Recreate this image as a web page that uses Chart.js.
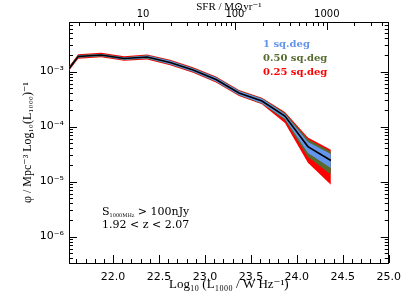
<!DOCTYPE html>
<html><head><meta charset="utf-8">
<script src="https://cdn.jsdelivr.net/npm/chart.js@4/dist/chart.umd.min.js"></script>
<style>html,body{margin:0;padding:0;background:#fff;}</style>
</head><body>
<canvas id="c" width="409" height="307"></canvas>
<script>
// ---- data (log10 luminosity, log10 phi) ----
const logL     = [21.37, 21.62, 21.87, 22.12, 22.37, 22.62, 22.87, 23.12, 23.37, 23.62, 23.87, 24.12, 24.37];
const logPhi   = [-3.280, -2.727, -2.700, -2.764, -2.736, -2.836, -2.973, -3.145, -3.390, -3.536, -3.810, -4.364, -4.618];
const blueHi   = [-3.260, -2.707, -2.680, -2.744, -2.711, -2.806, -2.943, -3.110, -3.355, -3.496, -3.770, -4.280, -4.500];
const blueLo   = [-3.300, -2.747, -2.720, -2.784, -2.761, -2.866, -3.003, -3.180, -3.425, -3.576, -3.860, -4.480, -4.755];
const greenHi  = [-3.255, -2.702, -2.675, -2.739, -2.705, -2.800, -2.937, -3.103, -3.348, -3.488, -3.755, -4.230, -4.460];
const greenLo  = [-3.305, -2.752, -2.725, -2.789, -2.767, -2.872, -3.009, -3.187, -3.432, -3.584, -3.880, -4.550, -4.870];
const redHi    = [-3.240, -2.687, -2.660, -2.724, -2.691, -2.786, -2.923, -3.090, -3.335, -3.476, -3.735, -4.200, -4.420];
const redLo    = [-3.320, -2.767, -2.740, -2.804, -2.781, -2.886, -3.023, -3.200, -3.445, -3.596, -3.935, -4.660, -5.060];

const areaNames  = ['1 sq.deg', '0.50 sq.deg', '0.25 sq.deg'];
const areaColors = ['#6495ed', '#556b2f', '#ff0000'];

const xMin = 21.52, xMax = 25.0;
const yMinExp = -6.48, yMaxExp = -2.10;
const sfrOffset = 21.326;            // log SFR = log L - offset
const xMajorTicks = [22.0, 22.5, 23.0, 23.5, 24.0, 24.5, 25.0];
const sfrMajorTicks = [1, 2, 3];
const sfrLabels = ['10', '100', '1000'];
const yDecades = [-7, -6, -5, -4, -3, -2];
const supers = {'-':'⁻','0':'⁰','1':'¹','2':'²','3':'³','4':'⁴','5':'⁵','6':'⁶','7':'⁷','8':'⁸','9':'⁹'};

const pts = arr => logL.map((x, i) => ({x: x, y: Math.pow(10, arr[i])}));

function band(hi, lo, color, order) {
  return [
    {data: pts(hi), borderWidth: 0, borderColor: 'rgba(0,0,0,0)', pointRadius: 0, fill: false, order: order},
    {data: pts(lo), borderWidth: 0, borderColor: 'rgba(0,0,0,0)', pointRadius: 0, fill: '-1', backgroundColor: color, order: order}
  ];
}

function xTicks(scale) {
  const t = [];
  for (let k = Math.ceil(xMin * 10); k <= Math.round(xMax * 10); k++) {
    const v = k / 10;
    t.push({value: v, major: xMajorTicks.some(m => Math.abs(m - v) < 1e-6)});
  }
  scale.ticks = t;
}
function sfrTicks(scale) {
  const t = [];
  for (let d = 0; d <= 3; d++) {
    for (let m = 1; m <= 9; m++) {
      const v = d + Math.log10(m);
      if (v >= scale.min - 1e-9 && v <= scale.max + 1e-9) t.push({value: v, major: m === 1});
    }
  }
  scale.ticks = t;
}
function yTicks(scale) {
  const t = [];
  yDecades.forEach(d => {
    for (let m = 1; m <= 9; m++) {
      const v = m * Math.pow(10, d);
      if (v >= scale.min && v <= scale.max) t.push({value: v, major: m === 1});
    }
  });
  scale.ticks = t;
}
function supText(n) { return String(n).split('').map(c => supers[c]).join(''); }

const inwardTicks = {
  id: 'inwardTicks',
  afterDraw(chart) {
    const ctx = chart.ctx, a = chart.chartArea;
    ctx.save();
    ctx.strokeStyle = '#000';
    ctx.lineWidth = 1;
    ctx.beginPath();
    const sc = chart.scales;
    sc.x.ticks.forEach(t => {
      const p = Math.round(sc.x.getPixelForValue(t.value)) + 0.5, L = t.major ? 8 : 4;
      ctx.moveTo(p, a.bottom); ctx.lineTo(p, a.bottom - L);
    });
    sc.x2.ticks.forEach(t => {
      const p = Math.round(sc.x2.getPixelForValue(t.value)) + 0.5, L = t.major ? 8 : 4;
      ctx.moveTo(p, a.top); ctx.lineTo(p, a.top + L);
    });
    sc.y.ticks.forEach(t => {
      const p = Math.round(sc.y.getPixelForValue(t.value)) + 0.5, L = t.major ? 8 : 4;
      ctx.moveTo(a.left, p); ctx.lineTo(a.left + L, p);
      ctx.moveTo(a.right, p); ctx.lineTo(a.right - L, p);
    });
    ctx.stroke();

    // legend of survey areas
    ctx.font = 'bold 10px "DejaVu Serif", serif';
    ctx.textBaseline = 'middle';
    ctx.textAlign = 'left';
    areaNames.forEach((n, i) => {
      ctx.fillStyle = areaColors[i];
      ctx.fillText(n, a.left + 194, a.top + 22 + i * 14.3);
    });

    // annotation
    ctx.fillStyle = '#000';
    let x0 = a.left + 33, y0 = a.top + 190.5;
    ctx.font = '11px "DejaVu Serif", serif';
    ctx.fillText('S', x0, y0);
    let w = ctx.measureText('S').width;
    ctx.font = '5px "DejaVu Serif", serif';
    ctx.fillText('1000MHz', x0 + w, y0 + 3);
    w += ctx.measureText('1000MHz').width;
    ctx.font = '11px "DejaVu Serif", serif';
    ctx.fillText(' > 100nJy', x0 + w, y0);
    ctx.fillText('1.92 < z < 2.07', x0, y0 + 13);
    ctx.restore();
  }
};

const datasets = [
  {data: pts(logPhi), borderColor: '#000', borderWidth: 1.6, pointRadius: 0, fill: false, order: 0},
  ...band(blueHi, blueLo, areaColors[0], 1),
  ...band(greenHi, greenLo, areaColors[1], 2),
  ...band(redHi, redLo, areaColors[2], 3)
];

const tickFont = {family: '"DejaVu Sans", sans-serif', size: 11};
const titleFont = {family: '"Liberation Serif", "DejaVu Serif", serif', size: 12};

new Chart(document.getElementById('c'), {
  type: 'line',
  data: {datasets: datasets},
  options: {
    responsive: false,
    devicePixelRatio: 1,
    animation: false,
    parsing: false,
    layout: {padding: 0},
    plugins: {legend: {display: false}, tooltip: {enabled: false}},
    elements: {line: {tension: 0}},
    scales: {
      x: {
        type: 'linear', position: 'bottom', min: xMin, max: xMax, bounds: 'data',
        afterBuildTicks: xTicks,
        afterFit: s => { s.height = 44; },
        grid: {display: false, drawTicks: false, tickLength: 0},
        border: {display: true, color: '#000', width: 1},
        ticks: {autoSkip: false, maxRotation: 0, padding: 8, color: '#000', font: tickFont,
          callback: (v, i, t) => t[i].major ? v.toFixed(1) : ''},
        title: {display: true, text: 'Log₁₀ (L₁₀₀₀ / W Hz⁻¹)', color: '#000', font: {family: '"Liberation Serif", "DejaVu Serif", serif', size: 13}, padding: {top: 0, bottom: 15}}
      },
      x2: {
        type: 'linear', position: 'top', min: xMin - sfrOffset, max: xMax - sfrOffset, bounds: 'data',
        afterBuildTicks: sfrTicks,
        afterFit: s => { s.height = 22; },
        grid: {display: false, drawTicks: false, tickLength: 0},
        border: {display: true, color: '#000', width: 1},
        ticks: {autoSkip: false, maxRotation: 0, padding: 2, color: '#000', font: {family: '"DejaVu Sans", sans-serif', size: 10},
          callback: (v, i, t) => { const k = sfrMajorTicks.findIndex(m => Math.abs(m - v) < 1e-6); return k >= 0 ? sfrLabels[k] : ''; }},
        title: {display: true, text: 'SFR / M⊙yr⁻¹', color: '#000', font: {family: '"Liberation Serif", "DejaVu Serif", serif', size: 11}, padding: {top: 1, bottom: 0}}
      },
      y: {
        type: 'logarithmic', position: 'left', min: Math.pow(10, yMinExp), max: Math.pow(10, yMaxExp), bounds: 'data',
        afterBuildTicks: yTicks,
        afterFit: s => { s.width = 69; },
        grid: {display: false, drawTicks: false, tickLength: 0},
        border: {display: true, color: '#000', width: 1},
        ticks: {autoSkip: false, padding: 5, color: '#000', font: tickFont,
          callback: (v, i, t) => t[i].major ? '10' + supText(Math.round(Math.log10(v))) : ''},
        title: {display: true, text: 'φ / Mpc⁻³ Log₁₀(L₁₀₀₀)⁻¹', color: '#000', font: titleFont, padding: {top: 21, bottom: 0}}
      },
      y2: {
        type: 'logarithmic', position: 'right', min: Math.pow(10, yMinExp), max: Math.pow(10, yMaxExp), bounds: 'data',
        afterBuildTicks: yTicks,
        afterFit: s => { s.width = 20; },
        grid: {display: false, drawTicks: false, tickLength: 0},
        border: {display: true, color: '#000', width: 1},
        ticks: {display: false}
      }
    }
  },
  plugins: [inwardTicks]
});
</script>
</body></html>
